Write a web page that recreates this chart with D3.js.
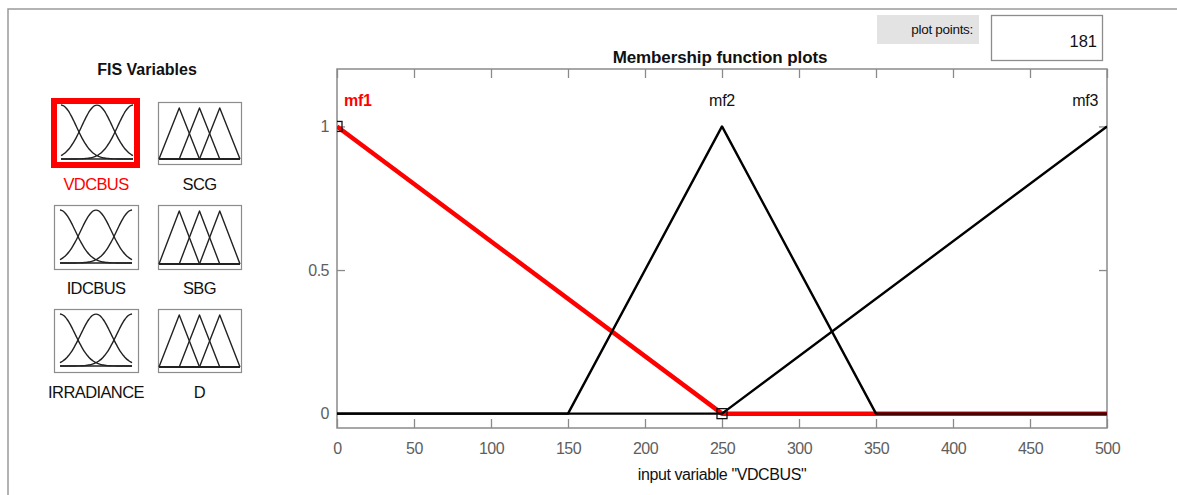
<!DOCTYPE html>
<html>
<head>
<meta charset="utf-8">
<script src="https://cdn.jsdelivr.net/npm/d3@7"></script>
<style>
  html, body { margin: 0; padding: 0; background: #fff; }
  svg { display: block; font-family: "Liberation Sans", Arial, sans-serif; }
</style>
</head>
<body>
<svg id="chart" width="1177" height="495"></svg>
<script>
// ---------------- data ----------------
const xTicks = [0, 50, 100, 150, 200, 250, 300, 350, 400, 450, 500];
const yTicks = [0, 0.5, 1];
const yTickLabels = ["0", "0.5", "1"];
const mfNames = ["mf1", "mf2", "mf3"];
const mf1X = [0, 250, 500];
const mf1Y = [1, 0, 0];
const mf2X = [0, 150, 250, 350, 500];
const mf2Y = [0, 0, 1, 0, 0];
const mf3X = [0, 250, 500];
const mf3Y = [0, 0, 1];
const handleX = [0, 250];
const handleY = [1, 0];
const plotPoints = "181";
const inputName = "VDCBUS";
const fisVars = ["VDCBUS", "SCG", "IDCBUS", "SBG", "IRRADIANCE", "D"];
const fisTypes = ["gauss", "tri", "gauss", "tri", "gauss", "tri"];
// thumbnail membership parameters (normalised domain 0..1)
const gaussCenters = [0, 0.5, 1];
const gaussSigma = 0.2123;
const triParams = [[0, 0.25, 0.5], [0.25, 0.5, 0.75], [0.5, 0.75, 1]];

// ---------------- layout ----------------
const svg = d3.select("#chart");
const L = 337, R = 1107, T = 69, B = 428;
const x = d3.scaleLinear().domain([0, 500]).range([L, R]);
const y = d3.scaleLinear().domain([-0.05, 1.2]).range([B, T]);
const axisGray = "#8a8a8a";
const labelGray = "#5e5e5e";

// outer panel frame
svg.append("path").attr("d", "M8,495 L8,9 L1177,9")
  .attr("fill", "none").attr("stroke", "#9a9a9a").attr("stroke-width", 1.5);

// ---------------- left panel ----------------
svg.append("text").attr("x", 147).attr("y", 75).attr("text-anchor", "middle")
  .attr("font-weight", "bold").attr("font-size", 16).attr("fill", "#111")
  .text("FIS Variables");

const boxes = [
  {x0: 54, x1: 138, y0: 101, y1: 165, ly: 190},
  {x0: 158, x1: 241, y0: 102, y1: 164, ly: 190},
  {x0: 54, x1: 138, y0: 205, y1: 269, ly: 294},
  {x0: 158, x1: 241, y0: 205, y1: 269, ly: 294},
  {x0: 54, x1: 138, y0: 309, y1: 372, ly: 398},
  {x0: 158, x1: 241, y0: 309, y1: 372, ly: 398}
];

fisVars.forEach((name, i) => {
  const b = boxes[i];
  const g = svg.append("g");
  const selected = name === inputName;
  if (selected) {
    g.append("rect").attr("x", 51 + 3).attr("y", 98 + 3)
      .attr("width", 89 - 6).attr("height", 70 - 6)
      .attr("fill", "#fff").attr("stroke", "#ff0000").attr("stroke-width", 6);
  } else {
    g.append("rect").attr("x", b.x0 + 0.5).attr("y", b.y0 + 0.5)
      .attr("width", b.x1 - b.x0).attr("height", b.y1 - b.y0)
      .attr("fill", "#fff").attr("stroke", "#8c8c8c").attr("stroke-width", 1.2);
  }
  let tx, ty;
  if (fisTypes[i] === "gauss") {
    tx = d3.scaleLinear().domain([0, 1]).range([b.x0 + 6, b.x1 - 6]);
    ty = d3.scaleLinear().domain([0, 1]).range([b.y1 - 6, b.y0 + 5]);
    if (selected) { tx.range([61, 133]); ty.range([159, 105]); }
    const line = d3.line().x(d => tx(d[0])).y(d => ty(d[1])).curve(d3.curveBasis);
    gaussCenters.forEach(c => {
      const pts = d3.range(0, 1.0001, 0.02).map(v => [v, Math.exp(-((v - c) ** 2) / (2 * gaussSigma ** 2))]);
      g.append("path").attr("d", line(pts)).attr("fill", "none")
        .attr("stroke", "#222").attr("stroke-width", 1.4);
    });
    g.append("line").attr("x1", tx(0)).attr("x2", tx(1)).attr("y1", ty(0)).attr("y2", ty(0))
      .attr("stroke", "#222").attr("stroke-width", 1.6);
  } else {
    tx = d3.scaleLinear().domain([0, 1]).range([b.x0 + 1, b.x1 - 1]);
    ty = d3.scaleLinear().domain([0, 1]).range([b.y1 - 5, b.y0 + 6]);
    const line = d3.line().x(d => tx(d[0])).y(d => ty(d[1]));
    triParams.forEach(p => {
      g.append("path").attr("d", line([[p[0], 0], [p[1], 1], [p[2], 0]])).attr("fill", "none")
        .attr("stroke", "#222").attr("stroke-width", 1.4).attr("stroke-linejoin", "round");
    });
    g.append("line").attr("x1", tx(0)).attr("x2", tx(1)).attr("y1", ty(0)).attr("y2", ty(0))
      .attr("stroke", "#222").attr("stroke-width", 1.8);
  }
  svg.append("text").attr("x", (b.x0 + b.x1) / 2).attr("y", b.ly)
    .attr("text-anchor", "middle").attr("font-size", 16.5).attr("letter-spacing", -0.6)
    .attr("fill", selected ? "#ff0000" : "#111").text(name);
});

// ---------------- plot points control ----------------
svg.append("rect").attr("x", 877).attr("y", 15).attr("width", 102).attr("height", 29)
  .attr("fill", "#e3e3e3");
svg.append("text").attr("x", 973).attr("y", 34).attr("text-anchor", "end")
  .attr("font-size", 13.5).attr("letter-spacing", -0.3).attr("fill", "#111").text("plot points:");
svg.append("rect").attr("x", 991.5).attr("y", 15.5).attr("width", 111).attr("height", 45)
  .attr("fill", "#fff").attr("stroke", "#8c8c8c").attr("stroke-width", 1.3);
svg.append("text").attr("x", 1097).attr("y", 47).attr("text-anchor", "end")
  .attr("font-size", 16.5).attr("fill", "#111").text(plotPoints);

// ---------------- main plot ----------------
svg.append("text").attr("x", 720).attr("y", 63).attr("text-anchor", "middle")
  .attr("font-weight", "bold").attr("font-size", 17).attr("letter-spacing", -0.1)
  .attr("fill", "#111").text("Membership function plots");

svg.append("rect").attr("x", L).attr("y", T).attr("width", R - L).attr("height", B - T)
  .attr("fill", "#fff");

// axes with inward ticks
const gx = svg.append("g").attr("transform", `translate(0,${B})`)
  .call(d3.axisBottom(x).tickValues(xTicks).tickSizeInner(-9).tickSizeOuter(0).tickPadding(15));
const gxt = svg.append("g").attr("transform", `translate(0,${T})`)
  .call(d3.axisTop(x).tickValues(xTicks).tickSizeInner(-9).tickSizeOuter(0).tickFormat(""));
const gy = svg.append("g").attr("transform", `translate(${L},0)`)
  .call(d3.axisLeft(y).tickValues(yTicks).tickSizeInner(-8).tickSizeOuter(0).tickPadding(8)
    .tickFormat((d, i) => yTickLabels[i]));
const gyr = svg.append("g").attr("transform", `translate(${R},0)`)
  .call(d3.axisRight(y).tickValues(yTicks).tickSizeInner(-8).tickSizeOuter(0).tickFormat(""));
[gx, gxt, gy, gyr].forEach(g => {
  g.select(".domain").remove();
  g.selectAll(".tick line").attr("stroke", axisGray).attr("stroke-width", 1.3);
  g.selectAll(".tick text").attr("fill", labelGray).attr("font-size", 16)
    .attr("font-family", "'Liberation Sans', Arial, sans-serif").attr("letter-spacing", -0.5);
});
gx.selectAll(".tick text").attr("dy", "0.7em");

svg.append("rect").attr("x", L).attr("y", T).attr("width", R - L).attr("height", B - T)
  .attr("fill", "none").attr("stroke", axisGray).attr("stroke-width", 1.5);

svg.append("clipPath").attr("id", "plotclip").append("rect")
  .attr("x", L).attr("y", T).attr("width", R - L).attr("height", B - T);
const pg = svg.append("g").attr("clip-path", "url(#plotclip)");

const line = d3.line().x(d => x(d[0])).y(d => y(d[1]));
const zip = (xs, ys) => xs.map((v, i) => [v, ys[i]]);

pg.append("path").attr("d", line(zip(mf1X, mf1Y))).attr("fill", "none")
  .attr("stroke", "#ff0000").attr("stroke-width", 4.5).attr("stroke-linejoin", "round");
pg.append("path").attr("d", line(zip(mf3X, mf3Y))).attr("fill", "none")
  .attr("stroke", "#000").attr("stroke-width", 2.4).attr("stroke-linejoin", "round");
pg.append("path").attr("d", line(zip(mf2X, mf2Y))).attr("fill", "none")
  .attr("stroke", "#000").attr("stroke-width", 2.4).attr("stroke-linejoin", "round");

handleX.forEach((hx, i) => {
  pg.append("rect").attr("x", x(hx) - 5).attr("y", y(handleY[i]) - 5)
    .attr("width", 10).attr("height", 10).attr("fill", "none")
    .attr("stroke", "#111").attr("stroke-width", 1.3);
});

// mf labels
svg.append("text").attr("x", 344).attr("y", 106).attr("font-weight", "bold")
  .attr("font-size", 16).attr("letter-spacing", -0.3).attr("fill", "#ff0000").text(mfNames[0]);
svg.append("text").attr("x", x(250)).attr("y", 106).attr("text-anchor", "middle")
  .attr("font-size", 16).attr("letter-spacing", -0.3).attr("fill", "#111").text(mfNames[1]);
svg.append("text").attr("x", 1098).attr("y", 106).attr("text-anchor", "end")
  .attr("font-size", 16).attr("letter-spacing", -0.3).attr("fill", "#111").text(mfNames[2]);

// x axis title
svg.append("text").attr("x", 722).attr("y", 480).attr("text-anchor", "middle")
  .attr("font-size", 16).attr("letter-spacing", -0.4).attr("fill", "#111")
  .text(`input variable "${inputName}"`);
</script>
</body>
</html>
